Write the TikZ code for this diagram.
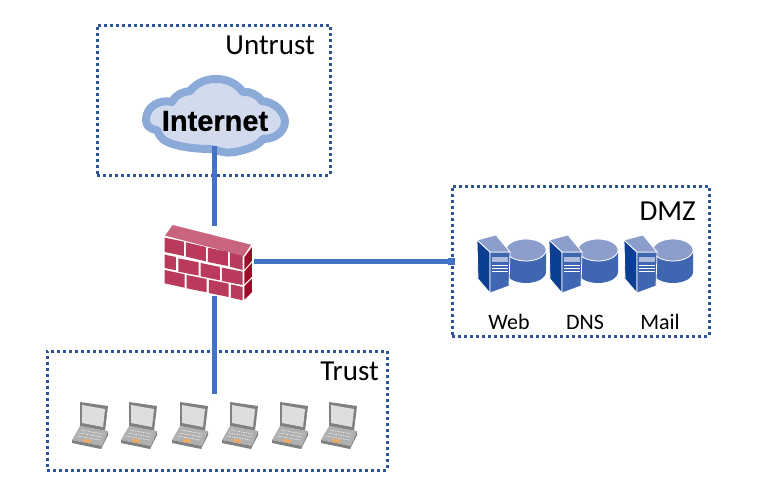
\documentclass[tikz,border=0pt]{standalone}
\usepackage{fontspec}
\setmainfont{Carlito}
\newfontfamily\inetfont[BoldFeatures={FakeBold=0.6}]{Liberation Sans}
\definecolor{zoneblue}{HTML}{2F5597}
\definecolor{linkblue}{HTML}{4472C4}
\definecolor{cloudedge}{HTML}{8CAAD8}
\definecolor{cloudfill}{HTML}{D2DAEE}
\definecolor{brick}{HTML}{B93A5A}
\definecolor{bricktop}{HTML}{C9647E}
\definecolor{brickside}{HTML}{A00A28}
\definecolor{srvdark}{HTML}{0B3F94}
\definecolor{srvfront}{HTML}{3F66B0}
\definecolor{srvlight}{HTML}{8C9DCC}
\definecolor{lapdark}{HTML}{808080}
\definecolor{lapmid}{HTML}{B0B0B0}
\definecolor{lapscreen}{HTML}{DEDEDE}
\definecolor{laporange}{HTML}{F0A860}
\tikzset{
  x=1pt,y=-1pt,
  zone/.style={draw=zoneblue,line width=3pt,dash pattern=on 3pt off 3pt},
  link/.style={draw=linkblue,line width=5pt},
  zonelabel/.style={font=\fontsize{29}{31}\selectfont,text=black,inner sep=0pt},
  srvlabel/.style={font=\fontsize{22}{24}\selectfont,text=black,inner sep=0pt},
  pics/serverunit/.style={code={
    % disk
    \fill[srvfront] (29,15) -- (29,37) arc[start angle=180,end angle=0,x radius=20,y radius=11] -- (69,15) -- cycle;
    \draw[white,line width=.8pt,fill=srvlight] (49,15) ellipse[x radius=20,y radius=11];
    % tower
    \filldraw[white,line width=.8pt,fill=srvdark] (0,5) -- (13,17) -- (13,58) -- (1,44) -- cycle;
    \filldraw[white,line width=.8pt,fill=srvfront] (13,17) -- (33,17) -- (32,51) -- (13,58) -- cycle;
    \filldraw[white,line width=.8pt,fill=srvlight] (0,5) -- (19,0) -- (33,17) -- (13,17) -- cycle;
    \fill[srvlight!70!white] (15,22) rectangle (31,27);
    \draw[white,line width=.8pt] (15,30) -- (31,30) (15,33) -- (31,33) (15,36) -- (31,36);
  }},
  pics/laptopunit/.style={code={
    \fill[lapdark] (8,0) -- (36,4) -- (33,29) -- (8,24) -- cycle;
    \fill[lapscreen] (10,3) -- (33,7) -- (31,25) -- (10,21) -- cycle;
    \fill[lapmid] (8,24) -- (36,29) -- (30,44) -- (0,38) -- cycle;
    \fill[lapdark] (0,38) -- (30,44) -- (29,47) -- (0,41) -- cycle;
    \fill[lapdark] (30,44) -- (36,29) -- (36,33) -- (29,47) -- cycle;
    \draw[white,line width=.5pt,dash pattern=on 1.5pt off 1pt] (9,28) -- (31,32) (7,31) -- (30,35) (5,34) -- (28,38);
    \fill[laporange] (12,36.5) -- (19,38) -- (18,41) -- (11,39.5) -- cycle;
  }},
}
\begin{document}
\begin{tikzpicture}
\useasboundingbox (0,0) rectangle (780,483);
\fill[white] (0,0) rectangle (780,483);
% zones
\node[zone,inner sep=0pt,minimum width=233pt,minimum height=150pt] (untrust) at (213.5,100) {};
\node[zone,inner sep=0pt,minimum width=257pt,minimum height=150pt] (dmz) at (580.5,261) {};
\node[zone,inner sep=0pt,minimum width=340pt,minimum height=119pt] (trust) at (217,410.5) {};
\node[zonelabel,anchor=base east] (untrustlabel) at (315,54) {Untrust};
\node[zonelabel,anchor=base east] (dmzlabel) at (696,220) {DMZ};
\node[zonelabel,anchor=base east] (trustlabel) at (379,380) {Trust};
% anchor points
\node[inner sep=0pt,minimum width=80pt,minimum height=70pt] (fw) at (214,261) {};
\coordinate (cloudport) at (214,146);
\coordinate (trustport) at (214,394);
% connectors
\draw[link] (cloudport) -- (fw.north);
\draw[link] (fw.east) -- (dmz.west);
\draw[link] (fw.south) -- (trustport);
\fill[linkblue] ([xshift=-3pt,yshift=3.5pt]dmz.west) rectangle ([xshift=4pt,yshift=-3.5pt]dmz.west);
% cloud
\path[draw=cloudedge,fill=cloudfill,line width=8pt,line join=round]
  (146,120)
  .. controls (146,106) and (160,99) .. (172,102)
  .. controls (176,94) and (183,92) .. (190,91)
  .. controls (197,82) and (207,79) .. (216,79)
  .. controls (228,79) and (237,84) .. (243,92)
  .. controls (250,91) and (258,95) .. (262,101)
  .. controls (275,102) and (284,112) .. (285,121)
  .. controls (285,131) and (276,139) .. (263,139)
  .. controls (257,147) and (245,150) .. (235,152)
  .. controls (224,154) and (217,150) .. (211,149)
  .. controls (190,149) and (165,145) .. (160,136)
  .. controls (158,133) and (158,131) .. (157,130)
  .. controls (149,129) and (146,125) .. (146,120) -- cycle;
\draw[link] (cloudport) -- (214,156);
\node[inner sep=0pt,font=\inetfont\bfseries\fontsize{29}{31}\selectfont] (internet) at (215,121) {Internet};
% firewall
\begin{scope}[shift={(150,215)},x=0.3333pt,y=-0.3333pt]
\filldraw[white,line width=1pt,fill=bricktop] (42,63) -- (67,28) -- (306,88) -- (282,125) -- cycle;
\filldraw[white,line width=1pt,fill=brickside] (282,125) -- (308,90) -- (308,232) -- (282,258) -- cycle;
\fill[white] (42,63) -- (282,125) -- (282,258) -- (42,207) -- cycle;
\foreach \a/\b/\c/\d in {
 44/68/102/80, 108/82/168/96, 174/98/234/110, 240/112/278/122}
 {\fill[brick] (\a,\b) -- (\c,\d) -- (\c,\d+43) -- (\a,\b+43) -- cycle;}
\foreach \a/\b/\c/\d in {
 44/119/78/126, 85/130/146/142, 152/144/210/156, 216/158/278/170}
 {\fill[brick] (\a,\b) -- (\c,\d) -- (\c,\d+40) -- (\a,\b+40) -- cycle;}
\foreach \a/\b/\c/\d in {
 44/165/104/178, 110/180/170/192, 177/194/236/206, 243/208/278/216}
 {\fill[brick] (\a,\b) -- (\c,\d) -- (\c,\d+40) -- (\a,\b+40) -- cycle;}
\draw[white,line width=1pt] (282,168) -- (308,138) (282,212) -- (308,186);
\end{scope}
% servers
\pic at (477,235) {serverunit};
\pic at (549,235) {serverunit};
\pic at (624,235) {serverunit};
\node[srvlabel] (web) at (509,322) {Web};
\node[srvlabel] (dns) at (585,322) {DNS};
\node[srvlabel] (mail) at (660,322) {Mail};
% laptops
\pic at (72,402) {laptopunit};
\pic at (121,402) {laptopunit};
\pic at (172,402) {laptopunit};
\pic at (222,402) {laptopunit};
\pic at (272,402) {laptopunit};
\pic at (321,402) {laptopunit};
\end{tikzpicture}
\end{document}
